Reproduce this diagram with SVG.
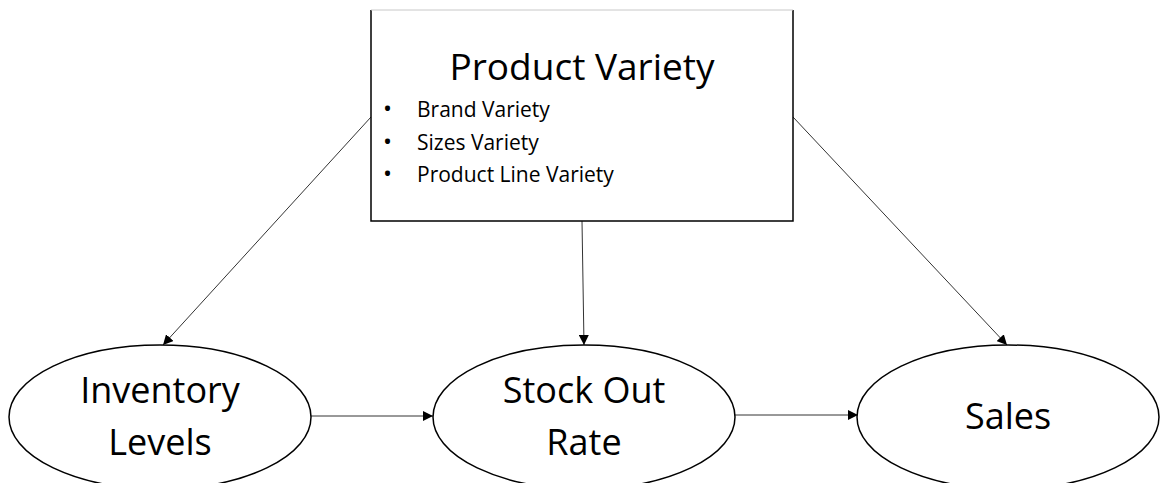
<svg xmlns="http://www.w3.org/2000/svg" width="1160" height="483" viewBox="0 0 1160 483">
  <style>
    .node { fill: #ffffff; stroke: #000000; stroke-width: 1.5; }
    .label { font-family: "Open Sans", "Liberation Sans", sans-serif; fill: #000000; text-anchor: middle; }
    .big { font-size: 36px; }
    .item { font-family: "Open Sans", "Liberation Sans", sans-serif; font-size: 21px; fill: #000000; }
    .edge { stroke: #333333; stroke-width: 1; fill: none; marker-end: url(#head); }
  </style>
  <defs>
    <marker id="head" viewBox="0 0 10 10" refX="10" refY="5" markerWidth="10" markerHeight="10" markerUnits="userSpaceOnUse" orient="auto">
      <path d="M0,0 L10,5 L0,10 z" fill="#000000"/>
    </marker>
  </defs>
  <rect width="1160" height="483" fill="#ffffff"/>

  <g id="connectors">
    <line class="edge" x1="371" y1="117" x2="163" y2="345"/>
    <line class="edge" x1="793" y1="117" x2="1007" y2="345"/>
    <line class="edge" x1="582" y1="221" x2="584" y2="345"/>
    <line class="edge" x1="311" y1="416" x2="433" y2="416"/>
    <line class="edge" x1="735" y1="415" x2="858" y2="415"/>
  </g>

  <g id="product-variety">
    <path d="M371,10 L371,221 L793,221 L793,10" class="node"/>
    <line x1="371" y1="10" x2="793" y2="10" stroke="#c8c8c8" stroke-width="1"/>
    <text class="label" x="582" y="80" font-size="37">Product Variety</text>
    <g class="item">
      <text x="383" y="117" font-size="24">•</text>
      <text x="417" y="117">Brand Variety</text>
      <text x="383" y="150" font-size="24">•</text>
      <text x="417" y="150">Sizes Variety</text>
      <text x="383" y="182" font-size="24">•</text>
      <text x="417" y="182">Product Line Variety</text>
    </g>
  </g>

  <g id="inventory-levels">
    <ellipse class="node" cx="160" cy="417" rx="151" ry="72"/>
    <text class="label big" x="160" y="403">Inventory</text>
    <text class="label big" x="160" y="455">Levels</text>
  </g>

  <g id="stock-out-rate">
    <ellipse class="node" cx="584" cy="417" rx="151" ry="72"/>
    <text class="label big" x="584" y="403">Stock Out</text>
    <text class="label big" x="584" y="455">Rate</text>
  </g>

  <g id="sales">
    <ellipse class="node" cx="1008" cy="417" rx="151" ry="72"/>
    <text class="label big" x="1008" y="429">Sales</text>
  </g>
</svg>
